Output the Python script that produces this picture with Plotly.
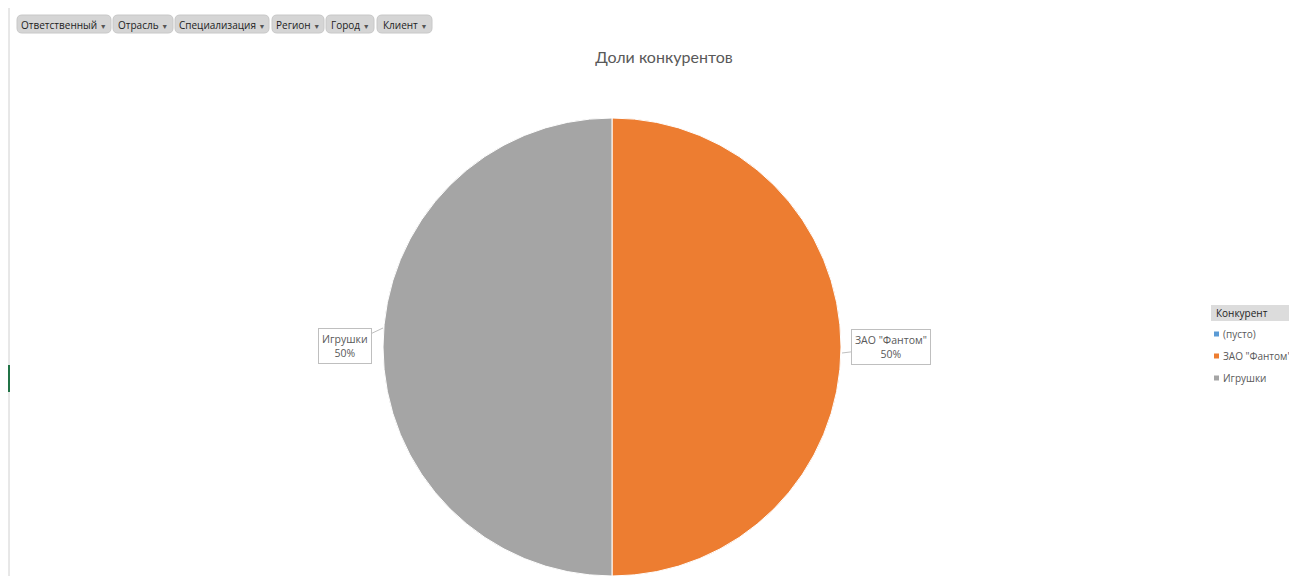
import plotly.graph_objects as go

W, H = 1297, 576
OFF = 8  # page body margin in the browser

labels = ['(пусто)', 'ЗАО "Фантом"', 'Игрушки']
values = [0, 50, 50]
colors = ['#5B9BD5', '#ED7D31', '#A5A5A5']
legend_labels = ['(пусто)', 'ЗАО "Фантом"', 'Игрушки']
filters = ['Ответственный', 'Отрасль', 'Специализация', 'Регион', 'Город', 'Клиент']
filter_bounds = [(17, 111), (113, 173), (175, 269), (272, 324), (326, 374), (377, 432)]

def px(x):
    return (x - OFF) / W

def py(y):
    return 1 - (y - OFF) / H

def rounded_rect(x0, y0, x1, y1, r):
    pts = [
        f'M {px(x0 + r)},{py(y0)}',
        f'L {px(x1 - r)},{py(y0)}', f'Q {px(x1)},{py(y0)} {px(x1)},{py(y0 + r)}',
        f'L {px(x1)},{py(y1 - r)}', f'Q {px(x1)},{py(y1)} {px(x1 - r)},{py(y1)}',
        f'L {px(x0 + r)},{py(y1)}', f'Q {px(x0)},{py(y1)} {px(x0)},{py(y1 - r)}',
        f'L {px(x0)},{py(y0 + r)}', f'Q {px(x0)},{py(y0)} {px(x0 + r)},{py(y0)}', 'Z',
    ]
    return ' '.join(pts)

fig = go.Figure()
fig.add_trace(go.Pie(
    labels=labels, values=values, sort=False, direction='clockwise', rotation=0,
    marker=dict(colors=colors, line=dict(color='white', width=1)),
    textinfo='none', hoverinfo='label+percent', showlegend=False,
    domain=dict(x=[px(383), px(841)], y=[py(576), py(118)]),
))

total = sum(values)
anns = []
shapes = []
callouts = {
    'Игрушки': dict(tip=(383, 328), box=(345, 346)),
    'ЗАО "Фантом"': dict(tip=(842, 353), box=(891, 347)),
}
for lab, val in zip(labels, values):
    if lab in callouts:
        c = callouts[lab]
        pct = round(100 * val / total)
        anns.append(dict(
            x=px(c['tip'][0]), y=py(c['tip'][1]), xref='paper', yref='paper',
            text=f'{lab}<br>{pct}%', showarrow=True, arrowhead=0, arrowwidth=1,
            arrowcolor='#BFBFBF', ax=c['box'][0] - c['tip'][0], ay=c['box'][1] - c['tip'][1],
            bgcolor='white', bordercolor='#BFBFBF', borderwidth=1, borderpad=3,
            font=dict(family='Open Sans', size=10.5, color='#595959'), align='center',
        ))

for name, (x0, x1) in zip(filters, filter_bounds):
    shapes.append(dict(type='path', xref='paper', yref='paper', path=rounded_rect(x0, 15, x1, 33, 5),
                       fillcolor='#D5D5D5', line=dict(color='#C8C8C8', width=1), layer='below'))
    anns.append(dict(
        x=px((x0 + x1) / 2), y=py(24.5), xref='paper', yref='paper', xanchor='center', yanchor='middle',
        text=f'{name} <span style="font-size:7px;color:#555">▼</span>', showarrow=False,
        font=dict(family='Open Sans', size=10, color='#222'),
    ))

anns.append(dict(
    x=px(1214), y=py(313), xref='paper', yref='paper', xanchor='left', yanchor='middle',
    text='Конкурент', showarrow=False, font=dict(family='Open Sans', size=10, color='#222'),
))
shapes += [
    dict(type='rect', xref='paper', yref='paper', x0=px(1211), x1=px(1310), y0=py(321), y1=py(305),
         fillcolor='#DCDCDC', line=dict(width=0), layer='below'),
    dict(type='line', xref='paper', yref='paper', x0=px(9), x1=px(9), y0=0, y1=1,
         line=dict(color='#D0D0D0', width=1)),
    dict(type='line', xref='paper', yref='paper', x0=px(9), x1=px(9), y0=py(365), y1=py(392),
         line=dict(color='#217346', width=2)),
]
for i, (lab, col) in enumerate(zip(legend_labels, colors)):
    yc = 334 + i * 22
    shapes.append(dict(type='rect', xref='paper', yref='paper', x0=px(1214), x1=px(1219),
                       y0=py(yc + 2.5), y1=py(yc - 2.5), fillcolor=col, line=dict(width=0)))
    anns.append(dict(
        x=px(1221), y=py(yc), xref='paper', yref='paper', xanchor='left', yanchor='middle',
        text=lab, showarrow=False, font=dict(family='Open Sans', size=10, color='#595959'),
    ))

fig.update_layout(
    width=W, height=H, margin=dict(l=0, r=0, t=0, b=0),
    paper_bgcolor='white', plot_bgcolor='white',
    title=dict(text='Доли конкурентов', x=px(664), xanchor='center', y=py(57), yanchor='middle',
               font=dict(family='Lato', size=16, color='#595959')),
    annotations=anns, shapes=shapes, showlegend=False,
)
fig.write_html('out.html')
